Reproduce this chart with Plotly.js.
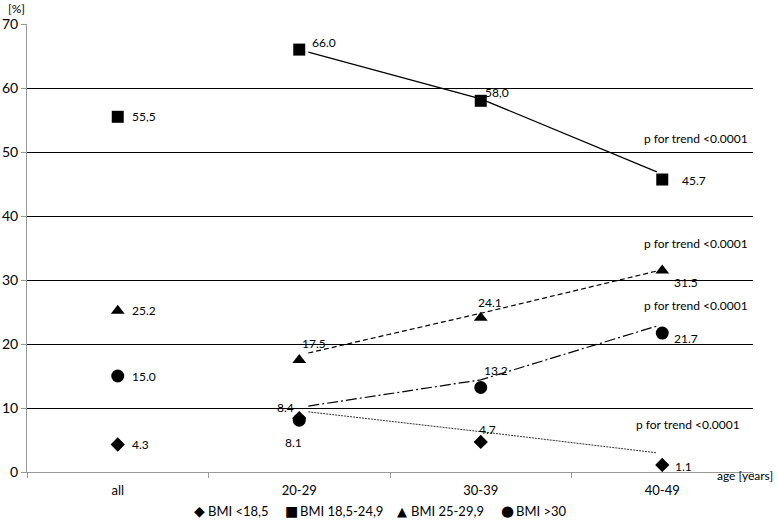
<!DOCTYPE html>
<html>
<head>
<meta charset="utf-8">
<script src="https://cdn.plot.ly/plotly-3.0.1.min.js"></script>
<style>html,body{margin:0;padding:0;background:#fff;}#chart{width:778px;height:525px;}</style>
</head>
<body>
<div id="chart"></div>
<script>
// ---- data ----
var categories = ["all", "20-29", "30-39", "40-49"];
var seriesNames = ["BMI <18,5", "BMI 18,5-24,9", "BMI 25-29,9", "BMI >30"];
var bmiUnder = [4.3, 8.4, 4.7, 1.1];
var bmiNormal = [55.5, 66.0, 58.0, 45.7];
var bmiOver = [25.2, 17.5, 24.1, 31.5];
var bmiObese = [15.0, 8.1, 13.2, 21.7];
var labelsUnder = ["4.3", "8.4", "4.7", "1.1"];
var labelsNormal = ["55,5", "66.0", "58,0", "45.7"];
var labelsOver = ["25.2", "17.5", "24.1", "31.5"];
var labelsObese = ["15.0", "8.1", "13.2", "21.7"];
// trend lines drawn over the age groups (positions on the category scale)
var trendX = [1.05, 2, 2.97];
var trendUnder = [9.4, 6.3, 3.0];
var trendNormal = [65.6, 58.3, 46.9];
var trendOver = [18.6, 24.8, 31.4];
var trendObese = [10.3, 14.4, 22.8];
var trendText = "p for trend <0.0001";
var trendLabelValues = [52.1, 35.7, 26.0, 7.4];

// ---- styling ----
var FONT = "Lato, 'Open Sans', sans-serif";
var xIdx = categories.map(function (c, i) { return i; });
var symbols = ["diamond", "square", "triangle-up", "circle"];
var glyphs = ["\u25C6", "\u25A0", "\u25B2", "\u25CF"];
var sizes = [11, 12, 12, 13];
var dashes = ["2px,1px", "solid", "5px,3px", "11px,3px,2px,3px"];
var values = [bmiUnder, bmiNormal, bmiOver, bmiObese];
var labels = [labelsUnder, labelsNormal, labelsOver, labelsObese];
var trends = [trendUnder, trendNormal, trendOver, trendObese];

var traces = [];
for (var s = 0; s < 4; s++) {
  traces.push({
    x: trendX, y: trends[s], type: "scatter", mode: "lines",
    line: {color: s === 0 ? "#333" : "#000", width: s === 0 ? 1 : 1.2, dash: dashes[s]},
    showlegend: false, hoverinfo: "skip"
  });
}
for (var s2 = 0; s2 < 4; s2++) {
  traces.push({
    x: xIdx, y: values[s2], type: "scatter", mode: "markers", name: seriesNames[s2],
    marker: {symbol: symbols[s2], size: sizes[s2], color: "#000"}, showlegend: false
  });
}

function esc(t) { return t.replace(/</g, "&lt;").replace(/>/g, "&gt;"); }

// label offsets (px) per series per category: [dx, dy (down positive), xanchor]
var offs = [
  [[12, 0, "left"], [-3, -11, "right"], [-4, -12, "left"], [11, 2, "left"]],
  [[12, 0, "left"], [11, -7, "left"], [2, -8, "left"], [18, 1, "left"]],
  [[12, 0, "left"], [1, -17, "left"], [-5, -15, "left"], [10, 12, "left"]],
  [[12, 0, "left"], [-6, 22, "center"], [1, -17, "left"], [10, 5, "left"]]
];
var annotations = [];
for (var a = 0; a < 4; a++) {
  for (var i = 0; i < 4; i++) {
    var o = offs[a][i];
    annotations.push({
      x: xIdx[i], y: values[a][i], xref: "x", yref: "y", text: labels[a][i],
      showarrow: false, xanchor: o[2], yanchor: "middle", xshift: o[0], yshift: -o[1],
      font: {family: FONT, size: 12, color: "#000"}
    });
  }
}
for (var t = 0; t < 4; t++) {
  annotations.push({
    x: 3.5, y: trendLabelValues[t], xref: "x", yref: "y", text: esc(trendText),
    showarrow: false, xanchor: "right", yanchor: "middle", xshift: t === 3 ? -11 : -3,
    font: {family: FONT, size: 12, color: "#000"}
  });
}
annotations.push({x: 0, y: 1, xref: "paper", yref: "paper", text: "[%]", showarrow: false,
  xanchor: "right", yanchor: "bottom", xshift: 0, yshift: 6, font: {family: FONT, size: 12, color: "#000"}});
annotations.push({x: 1, y: 0, xref: "paper", yref: "paper", text: "age [years]", showarrow: false,
  xanchor: "left", yanchor: "middle", xshift: -38, yshift: -3, font: {family: FONT, size: 12, color: "#000"}});

// legend row (symbol + series name), placed below the plot
var legendGlyphX = [199, 291, 402, 507];
var glyphSize = [14, 14, 13, 15];
for (var g = 0; g < 4; g++) {
  annotations.push({
    x: (legendGlyphX[g] - 27) / 726, y: 0, xref: "paper", yref: "paper",
    text: glyphs[g], showarrow: false, xanchor: "center", yanchor: "middle", yshift: -39,
    font: {family: "DejaVu Sans", size: glyphSize[g], color: "#000"}
  });
  annotations.push({
    x: (legendGlyphX[g] - 27) / 726, y: 0, xref: "paper", yref: "paper",
    text: esc(seriesNames[g]), showarrow: false, xanchor: "left", yanchor: "middle",
    xshift: 7, yshift: -39,
    font: {family: FONT, size: 13, color: "#000"}
  });
}

var layout = {
  width: 778, height: 525,
  margin: {l: 27, r: 25, t: 24, b: 53, autoexpand: false},
  paper_bgcolor: "#fff", plot_bgcolor: "#fff",
  font: {family: FONT, size: 12, color: "#000"},
  showlegend: false,
  xaxis: {
    type: "linear", range: [-0.5, 3.5], tickmode: "array", tickvals: xIdx, ticktext: categories,
    ticks: "outside", ticklen: 6, tickcolor: "rgba(0,0,0,0)",
    minor: {tickmode: "array", tickvals: [-0.5, 0.5, 1.5, 2.5, 3.5], ticks: "outside", ticklen: 5, tickcolor: "#999", showgrid: false},
    showgrid: false, zeroline: false, showline: true, linecolor: "#999", linewidth: 1,
    tickfont: {family: FONT, size: 13, color: "#000"}, fixedrange: true
  },
  yaxis: {
    range: [0, 70], dtick: 10, tick0: 0, showgrid: true, gridcolor: "#000", gridwidth: 1,
    zeroline: false, showline: true, linecolor: "#999", linewidth: 1,
    ticks: "outside", ticklen: 5, tickcolor: "#999",
    tickfont: {family: FONT, size: 14, color: "#000"}, fixedrange: true
  },
  annotations: annotations
};

Plotly.newPlot("chart", traces, layout, {displayModeBar: false, staticPlot: true});
</script>
</body>
</html>
